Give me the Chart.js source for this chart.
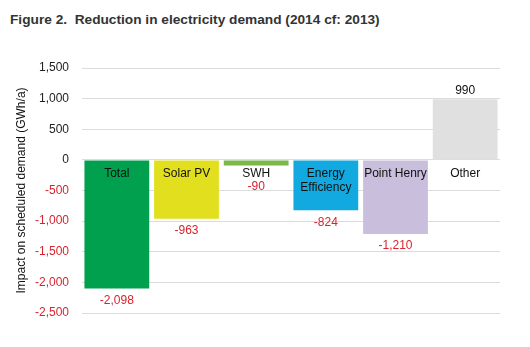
<!DOCTYPE html>
<html>
<head>
<meta charset="utf-8">
<script src="https://cdn.jsdelivr.net/npm/chart.js@4"></script>
<style>
  html, body { margin: 0; padding: 0; background: #fff; }
  #wrap { position: relative; width: 530px; height: 347px; }
  #title {
    position: absolute; left: 10px; top: 12px;
    font: bold 13.7px "Liberation Sans", Arial, sans-serif; color: #333;
    white-space: pre;
  }
  canvas { position: absolute; left: 0; top: 0; }
</style>
</head>
<body>
<div id="wrap">
  <div id="title">Figure 2.  Reduction in electricity demand (2014 cf: 2013)</div>
  <canvas id="chart" width="530" height="347"></canvas>
</div>
<script>
'use strict';

// chart data
const categories = ['Total', 'Solar PV', 'SWH', 'Energy Efficiency', 'Point Henry', 'Other'];
const nameLines = [['Total'], ['Solar PV'], ['SWH'], ['Energy', 'Efficiency'], ['Point Henry'], ['Other']];
const demandChange = [-2098, -963, -90, -824, -1210, 990];
const barColors = ['#00a04f', '#e2e01e', '#7bb849', '#11a9df', '#c9bedc', '#e0e0e0'];
const yTicks = { min: -2500, max: 1500, step: 500 };

const RED = '#d8242e';
const FONT = '"Liberation Sans", Arial, sans-serif';

// draws category names and values next to the bars
const barLabels = {
  id: 'barLabels',
  afterDatasetsDraw(chart) {
    const ctx = chart.ctx;
    const y = chart.scales.y;
    const meta = chart.getDatasetMeta(0);
    const zero = y.getPixelForValue(0);
    ctx.save();
    ctx.font = '12px ' + FONT;
    ctx.textAlign = 'center';
    ctx.textBaseline = 'middle';
    meta.data.forEach((bar, i) => {
      const v = demandChange[i];
      const end = y.getPixelForValue(v);
      const lines = nameLines[i];
      const thin = Math.abs(end - zero) < 20;
      // name
      ctx.fillStyle = '#111';
      const nameTop = zero + 14;
      lines.forEach((t, k) => ctx.fillText(t, bar.x, nameTop + k * 14));
      // value
      const txt = v.toLocaleString('en-US');
      if (v >= 0) {
        ctx.fillStyle = '#111';
        ctx.fillText(txt, bar.x, end - 9);
      } else {
        ctx.fillStyle = RED;
        const vy = thin ? nameTop + lines.length * 13 : end + 12;
        ctx.fillText(txt, bar.x, vy);
      }
    });
    ctx.restore();
  }
};

new Chart(document.getElementById('chart'), {
  type: 'bar',
  data: {
    labels: categories,
    datasets: [{
      data: demandChange,
      backgroundColor: barColors,
      borderWidth: 0,
      barPercentage: 0.93,
      categoryPercentage: 1.0
    }]
  },
  options: {
    responsive: false,
    animation: false,
    layout: { padding: { left: 10, top: 68, right: 30, bottom: 34 } },
    plugins: { legend: { display: false }, tooltip: { enabled: false } },
    scales: {
      x: { display: false },
      y: {
        min: yTicks.min,
        max: yTicks.max,
        border: { display: false },
        grid: { color: '#dcdcdc', drawTicks: false, lineWidth: 1 },
        ticks: {
          stepSize: yTicks.step,
          padding: 13,
          font: { family: FONT, size: 12 },
          color: (c) => (c.tick.value < 0 ? RED : '#222'),
          callback: (v) => v.toLocaleString('en-US')
        },
        title: {
          display: true,
          text: 'Impact on scheduled demand (GWh/a)',
          color: '#111',
          font: { family: FONT, size: 12 },
          padding: { top: 4, bottom: 0 }
        },
        afterFit: (s) => { s.width = 72; }
      }
    }
  },
  plugins: [barLabels]
});
</script>
</body>
</html>
